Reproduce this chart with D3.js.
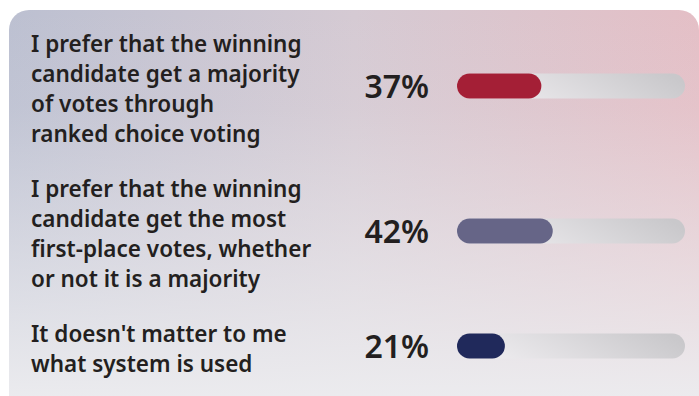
<!DOCTYPE html>
<html>
<head>
<meta charset="utf-8">
<script src="https://cdn.jsdelivr.net/npm/d3@7"></script>
<style>
  html, body { margin: 0; padding: 0; background: #ffffff; }
  svg { display: block; }
</style>
</head>
<body>
<script>
// ---- data ----
const categories = [
  ["I prefer that the winning", "candidate get a majority", "of votes through", "ranked choice voting"],
  ["I prefer that the winning", "candidate get the most", "first-place votes, whether", "or not it is a majority"],
  ["It doesn't matter to me", "what system is used"]
];
const values = [37, 42, 21];
const barColors = ["#a41f36", "#666587", "#20295b"];
const domainMax = [0, 100];

// ---- layout ----
const W = 699, H = 396;
const font = "'Noto Sans', 'Open Sans', sans-serif";
const lineH = 30, rowGap = 25, firstTop = 30;
const trackX0 = 457, trackX1 = 685, barH = 25;

const svg = d3.select("body").append("svg").attr("width", W).attr("height", H);
const defs = svg.append("defs");

const bgH = defs.append("linearGradient").attr("id", "bgH").attr("x1", 0).attr("x2", 1).attr("y1", 0).attr("y2", 0);
bgH.append("stop").attr("offset", "0%").attr("stop-color", "#bcc0d1");
bgH.append("stop").attr("offset", "50%").attr("stop-color", "#d5cad3");
bgH.append("stop").attr("offset", "100%").attr("stop-color", "#e4bfc6");

const bgV = defs.append("linearGradient").attr("id", "bgV").attr("gradientUnits", "userSpaceOnUse")
  .attr("x1", 0).attr("x2", 0).attr("y1", 10).attr("y2", H);
bgV.append("stop").attr("offset", "0%").attr("stop-color", "#ececef").attr("stop-opacity", 0);
bgV.append("stop").attr("offset", "25%").attr("stop-color", "#ececef").attr("stop-opacity", 0.1);
bgV.append("stop").attr("offset", "100%").attr("stop-color", "#ececef").attr("stop-opacity", 0.97);

const trk = defs.append("linearGradient").attr("id", "trk").attr("x1", 0).attr("x2", 1).attr("y1", 0.6).attr("y2", 0.4);
trk.append("stop").attr("offset", "0%").attr("stop-color", "#f0eef1");
trk.append("stop").attr("offset", "100%").attr("stop-color", "#c9c8cb");

// card
const cardH = 430;
svg.append("rect").attr("x", 9).attr("y", 10).attr("width", W - 9).attr("height", cardH)
  .attr("rx", 20).attr("fill", "url(#bgH)");
svg.append("rect").attr("x", 9).attr("y", 10).attr("width", W - 9).attr("height", cardH)
  .attr("rx", 20).attr("fill", "url(#bgV)");

// row positions derived from line counts
let tops = [], acc = firstTop;
categories.forEach(c => { tops.push(acc); acc += c.length * lineH + rowGap; });

const x = d3.scaleLinear().domain(domainMax).range([trackX0, trackX1]);

const rows = svg.selectAll("g.row").data(values.map((v, i) => ({v, i, lines: categories[i], top: tops[i]})))
  .join("g").attr("class", "row");

rows.each(function(d) {
  const g = d3.select(this);
  const center = d.top + d.lines.length * lineH / 2 - 4;
  const t = g.append("text").attr("font-family", font).attr("font-weight", 600)
    .attr("font-size", 22.5).attr("fill", "#231f20");
  d.lines.forEach((ln, j) => {
    t.append("tspan").attr("x", 31).attr("y", d.top + 22 + j * lineH).text(ln);
  });
  g.append("text").attr("x", 429).attr("y", center + 11.5).attr("text-anchor", "end")
    .attr("font-family", font).attr("font-weight", 600).attr("font-size", 32)
    .attr("fill", "#231f20").text(d.v + "%");
  g.append("rect").attr("x", x(0)).attr("y", center - barH / 2)
    .attr("width", x(100) - x(0)).attr("height", barH).attr("rx", barH / 2)
    .attr("fill", "url(#trk)");
  g.append("rect").attr("x", x(0)).attr("y", center - barH / 2)
    .attr("width", x(d.v) - x(0)).attr("height", barH).attr("rx", barH / 2)
    .attr("fill", barColors[d.i]);
});
</script>
</body>
</html>
